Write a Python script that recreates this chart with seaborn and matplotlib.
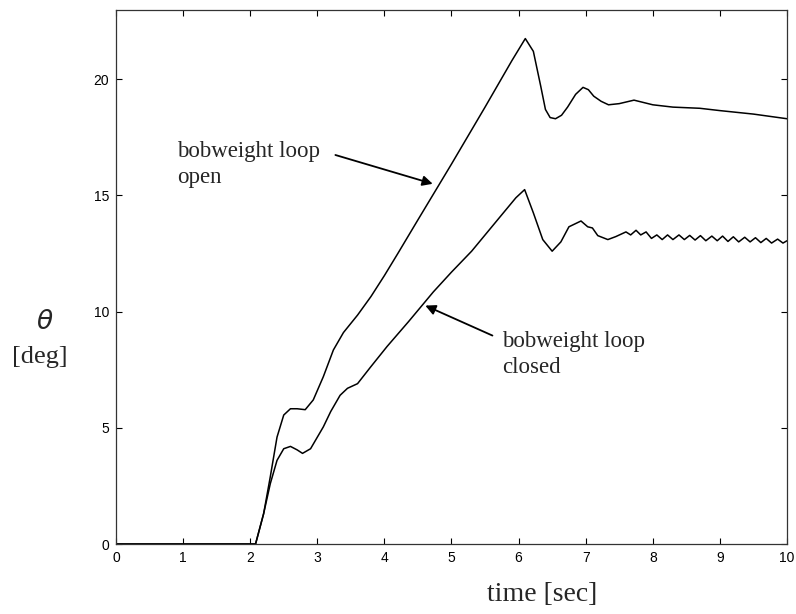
import matplotlib
matplotlib.use("Agg")
import matplotlib.pyplot as plt
import seaborn as sns
import numpy as np
import pandas as pd

# ---- data ----
t_open = [0, 2.08, 2.2, 2.3, 2.4, 2.5, 2.6, 2.7, 2.82, 2.94, 3.09, 3.24, 3.39, 3.6,
          3.8, 4.0, 4.2, 4.5, 5.0, 5.5, 5.9, 6.1, 6.22, 6.33, 6.4, 6.47, 6.55, 6.64,
          6.73, 6.85, 6.96, 7.04, 7.12, 7.23, 7.34, 7.5, 7.72, 8.0, 8.3, 8.7, 9.0,
          9.5, 10.0]
theta_open = [0, 0, 1.3, 2.9, 4.6, 5.55, 5.82, 5.82, 5.78, 6.2, 7.2, 8.35, 9.1, 9.85,
              10.65, 11.55, 12.5, 13.95, 16.35, 18.8, 20.8, 21.75, 21.2, 19.7, 18.7,
              18.35, 18.3, 18.45, 18.8, 19.35, 19.65, 19.55, 19.27, 19.05, 18.9, 18.95,
              19.1, 18.9, 18.8, 18.75, 18.65, 18.5, 18.3]

t_closed = [0, 2.08, 2.2, 2.3, 2.4, 2.5, 2.6, 2.7, 2.78, 2.9, 3.09, 3.2, 3.34, 3.45,
            3.6, 3.79, 4.04, 4.36, 4.73, 5.0, 5.3, 5.73, 5.96, 6.09, 6.22, 6.36, 6.5,
            6.63, 6.75, 6.93, 7.03, 7.1, 7.18, 7.33, 7.45, 7.6, 7.67, 7.75, 7.82,
            7.9, 7.98, 8.06, 8.14, 8.22, 8.30, 8.39, 8.47, 8.55, 8.63, 8.71, 8.79,
            8.88, 8.96, 9.04, 9.12, 9.20, 9.28, 9.37, 9.45, 9.53, 9.61, 9.69, 9.77,
            9.86, 9.94, 10.0]
theta_closed = [0, 0, 1.3, 2.6, 3.6, 4.1, 4.2, 4.05, 3.9, 4.1, 5.04, 5.7, 6.4, 6.7,
                6.9, 7.6, 8.5, 9.57, 10.85, 11.7, 12.6, 14.1, 14.9, 15.25, 14.25, 13.1,
                12.6, 13.0, 13.65, 13.9, 13.65, 13.6, 13.27, 13.1, 13.23, 13.43, 13.3,
                13.5, 13.3, 13.43, 13.15, 13.3, 13.1, 13.3, 13.1, 13.3, 13.1, 13.28,
                13.08, 13.27, 13.05, 13.25, 13.05, 13.25, 13.02, 13.22, 13.0, 13.2,
                13.0, 13.18, 12.97, 13.15, 12.95, 13.12, 12.95, 13.05]

x_ticks = [0, 1, 2, 3, 4, 5, 6, 7, 8, 9, 10]
y_ticks = [0, 5, 10, 15, 20]

sns.set_style("white")
plt.rcParams['font.family'] = ['Liberation Sans', 'DejaVu Sans']

fig = plt.figure(figsize=(7.96, 6.14), dpi=100)
ax = fig.add_axes([0.1457, 0.114, 0.843, 0.8705])

df_open = pd.DataFrame({"t": t_open, "theta": theta_open})
df_closed = pd.DataFrame({"t": t_closed, "theta": theta_closed})
sns.lineplot(data=df_open, x="t", y="theta", ax=ax, color="black", lw=1.1, sort=False)
sns.lineplot(data=df_closed, x="t", y="theta", ax=ax, color="black", lw=1.1, sort=False)

ax.set_xlim(0, 10)
ax.set_ylim(0, 23)
ax.set_xticks(x_ticks)
ax.set_yticks(y_ticks)
ax.set_xticklabels([str(v) for v in x_ticks], fontsize=10)
ax.set_yticklabels([str(v) for v in y_ticks], fontsize=10)
ax.tick_params(direction="in", length=4, width=0.8, top=True, right=True,
               bottom=True, left=True, colors="black", pad=5)
for s in ax.spines.values():
    s.set_visible(True)
    s.set_color("#333333")
    s.set_linewidth(0.9)

ax.set_xlabel("")
ax.set_ylabel("")
serif = "Liberation Serif"
fig.text(0.681, 0.031, "time [sec]", family=serif, fontsize=20,
         ha="center", va="center")
fig.text(0.056, 0.475, r"$\theta$", fontsize=19, ha="center", va="center",
         family=serif, style="italic")
fig.text(0.05, 0.418, "[deg]", fontsize=19, ha="center", va="center",
         family=serif)

ax.text(0.91, 16.33, "bobweight loop\nopen", fontsize=16.5, family=serif,
        ha="left", va="center", linespacing=1.35)
ax.annotate("", xy=(4.72, 15.5), xytext=(3.27, 16.74),
            arrowprops=dict(arrowstyle="-|>", color="black", lw=1.3,
                            mutation_scale=15, shrinkA=0, shrinkB=0))
ax.text(5.76, 8.15, "bobweight loop\nclosed", fontsize=16.5, family=serif,
        ha="left", va="center", linespacing=1.35)
ax.annotate("", xy=(4.61, 10.26), xytext=(5.61, 8.97),
            arrowprops=dict(arrowstyle="-|>", color="black", lw=1.3,
                            mutation_scale=15, shrinkA=0, shrinkB=0))

fig.savefig("out.png", dpi=100)
